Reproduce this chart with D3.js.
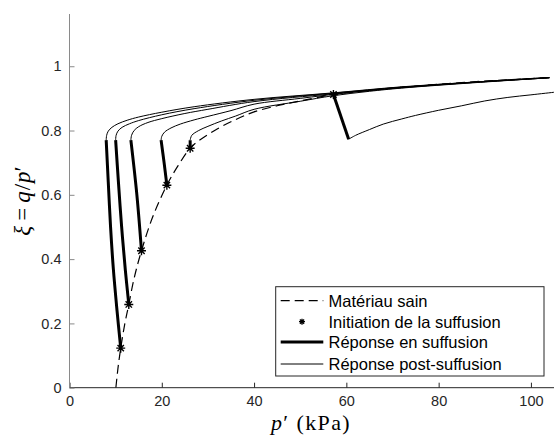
<!DOCTYPE html>
<html><head><meta charset="utf-8">
<script src="https://cdn.jsdelivr.net/npm/d3@7"></script>
<style>body{margin:0;background:#fff}svg{display:block}</style>
</head><body>
<svg id="c" width="554" height="441"></svg>
<script>
const xTicks = [0, 20, 40, 60, 80, 100];
const yTicks = [0, 0.2, 0.4, 0.6, 0.8, 1];
const xDomain = [0, 105];
const yDomain = [0, 1.16];

// Matériau sain (dashed)
const sainP  = [10.05, 10.5, 11.1, 12.0, 12.85, 14.0, 15.6, 18.0, 21.1, 23.5, 26.15, 28.0, 32.0, 36.0, 40.0, 45.0, 50.0, 57.2, 65.0, 74.0, 85.0, 95.0, 104.0];
const sainXi = [0, 0.06, 0.123, 0.2, 0.259, 0.34, 0.426, 0.53, 0.63, 0.69, 0.745, 0.768, 0.805, 0.834, 0.858, 0.877, 0.892, 0.912, 0.925, 0.937, 0.949, 0.958, 0.965];

// Initiation de la suffusion (asterisks)
const initP  = [11.1, 12.85, 15.6, 21.1, 26.15, 57.2];
const initXi = [0.123, 0.259, 0.426, 0.63, 0.745, 0.912];

// Réponse en suffusion (thick)
const suffP = [
  [11.1, 10.3, 9.5, 8.9, 8.4, 7.95],
  [12.85, 12.1, 11.3, 10.6, 10.0],
  [15.6, 14.6, 13.3],
  [21.1, 20.5, 19.85],
  [26.15, 26.15],
  [57.2, 60.5]
];
const suffXi = [
  [0.123, 0.24, 0.37, 0.5, 0.64, 0.77],
  [0.259, 0.366, 0.5, 0.64, 0.77],
  [0.426, 0.6, 0.77],
  [0.63, 0.70, 0.77],
  [0.745, 0.77],
  [0.912, 0.773]
];

// Réponse post-suffusion (thin)
const postP = [
  [7.95, 8.05, 8.4, 9.2, 10.5, 12.5, 15, 20, 27, 40, 57, 72, 88, 104],
  [10.0, 10.1, 10.5, 11.4, 13, 15, 20, 27, 40, 57, 72, 88, 104],
  [13.3, 13.45, 14, 15, 17, 20, 25, 30, 40, 57, 72, 88, 104],
  [19.85, 20.0, 20.6, 22, 24, 27, 30, 35, 40, 50, 60, 72, 88, 104],
  [26.15, 26.5, 28, 30, 33, 36, 40, 50, 57, 65, 72, 88, 104],
  [60.5, 62, 65, 68, 72, 75, 80, 85, 90, 95, 100, 105]
];
const postXi = [
  [0.77, 0.785, 0.798, 0.81, 0.821, 0.832, 0.842, 0.857, 0.874, 0.897, 0.917, 0.936, 0.951, 0.965],
  [0.77, 0.785, 0.798, 0.81, 0.821, 0.831, 0.849, 0.868, 0.894, 0.916, 0.935, 0.951, 0.965],
  [0.77, 0.785, 0.80, 0.812, 0.825, 0.837, 0.853, 0.866, 0.89, 0.914, 0.934, 0.95, 0.964],
  [0.77, 0.782, 0.795, 0.808, 0.82, 0.833, 0.844, 0.862, 0.882, 0.90, 0.917, 0.933, 0.95, 0.964],
  [0.77, 0.785, 0.80, 0.813, 0.83, 0.845, 0.866, 0.891, 0.908, 0.922, 0.932, 0.949, 0.964],
  [0.773, 0.785, 0.803, 0.82, 0.836, 0.847, 0.863, 0.877, 0.892, 0.903, 0.911, 0.919]
];

const legendLabels = ["Matériau sain", "Initiation de la suffusion", "Réponse en suffusion", "Réponse post-suffusion"];

const svg = d3.select("#c");
const x = d3.scaleLinear().domain(xDomain).range([69.5, 554]);
const y = d3.scaleLinear().domain(yDomain).range([387.7, 14.8]);
const ink = "#262626";
const sans = "'Liberation Sans', Arial, Helvetica, sans-serif";
const serif = "'Liberation Serif', 'Times New Roman', serif";

svg.append("clipPath").attr("id", "pa").append("rect")
  .attr("x", 69.5).attr("y", 14).attr("width", 554 - 69.5).attr("height", 388 - 14);

const plot = svg.append("g").attr("clip-path", "url(#pa)");
const line = d3.line().x(d => x(d[0])).y(d => y(d[1])).curve(d3.curveCatmullRom.alpha(0.5));

postP.forEach((ps, i) => {
  plot.append("path").datum(ps.map((p, j) => [p, postXi[i][j]]))
    .attr("d", line).attr("fill", "none").attr("stroke", "#000").attr("stroke-width", 1);
});
plot.append("path").datum(sainP.map((p, j) => [p, sainXi[j]]))
  .attr("d", line).attr("fill", "none").attr("stroke", "#000").attr("stroke-width", 1.2)
  .attr("stroke-dasharray", "9,5");
suffP.forEach((ps, i) => {
  plot.append("path").datum(ps.map((p, j) => [p, suffXi[i][j]]))
    .attr("d", line).attr("fill", "none").attr("stroke", "#000").attr("stroke-width", 3)
    .attr("stroke-linecap", "butt");
});
function star(cx, cy, r) {
  const a = r * 0.7071;
  return `M${cx - r},${cy}H${cx + r}M${cx},${cy - r}V${cy + r}M${cx - a},${cy - a}L${cx + a},${cy + a}M${cx - a},${cy + a}L${cx + a},${cy - a}`;
}
initP.forEach((p, i) => {
  svg.append("path").attr("d", star(x(p), y(initXi[i]), 4.5))
    .attr("stroke", "#000").attr("stroke-width", 1.4).attr("fill", "none");
});

const xAxis = svg.append("g").attr("transform", "translate(0,387.7)")
  .call(d3.axisBottom(x).tickValues(xTicks).tickSize(-5).tickPadding(8).tickFormat(d3.format("d")));
const yAxis = svg.append("g").attr("transform", "translate(69.5,0)")
  .call(d3.axisLeft(y).tickValues(yTicks).tickSize(-5).tickPadding(8).tickFormat(d => d === 0 ? "0" : d === 1 ? "1" : d3.format(".1f")(d)));
xAxis.select(".domain").attr("stroke", ink).attr("d", `M69.5,0H554`);
yAxis.select(".domain").attr("stroke", "#8a8a8a").attr("d", `M0,387.7V14`);
xAxis.selectAll(".tick line").attr("stroke", ink);
yAxis.selectAll(".tick line").attr("stroke", "#8a8a8a");
[xAxis, yAxis].forEach(a => a.selectAll("text").attr("fill", ink)
  .attr("font-family", sans).attr("font-size", 14.5));
xAxis.selectAll("text").attr("dy", "0.71em");

const xt = svg.append("text").attr("x", 311).attr("y", 430).attr("text-anchor", "middle")
  .attr("font-family", serif).attr("font-size", 22).attr("letter-spacing", 1.4).attr("fill", "#000");
xt.append("tspan").attr("font-style", "italic").text("p");
xt.append("tspan").text("′ (kPa)");

const yt = svg.append("text").attr("transform", "translate(30,201) rotate(-90)")
  .attr("text-anchor", "middle").attr("font-family", serif).attr("font-size", 23).attr("fill", "#000");
yt.append("tspan").attr("font-style", "italic").text("ξ");
yt.append("tspan").attr("dx", 5).text("=");
yt.append("tspan").attr("dx", 5).attr("font-style", "italic").text("q");
yt.append("tspan").attr("dx", 1).text("/");
yt.append("tspan").attr("dx", 1).attr("font-style", "italic").text("p");
yt.append("tspan").text("′");

const lg = svg.append("g");
lg.append("rect").attr("x", 275.7).attr("y", 286.7).attr("width", 268.3).attr("height", 89.3)
  .attr("fill", "#fff").attr("stroke", ink).attr("stroke-width", 1);
const rowsY = [300.7, 321.7, 342, 364];
const lx0 = 280.7, lx1 = 323.3;
lg.append("line").attr("x1", lx0).attr("x2", lx1).attr("y1", rowsY[0]).attr("y2", rowsY[0])
  .attr("stroke", "#000").attr("stroke-width", 1.2).attr("stroke-dasharray", "9,5");
lg.append("path").attr("d", star((lx0 + lx1) / 2, rowsY[1], 3)).attr("stroke", "#000").attr("stroke-width", 1.3);
lg.append("line").attr("x1", lx0).attr("x2", lx1).attr("y1", rowsY[2]).attr("y2", rowsY[2])
  .attr("stroke", "#000").attr("stroke-width", 3);
lg.append("line").attr("x1", lx0).attr("x2", lx1).attr("y1", rowsY[3]).attr("y2", rowsY[3])
  .attr("stroke", "#000").attr("stroke-width", 1);
legendLabels.forEach((t, i) => {
  lg.append("text").attr("x", 328.5).attr("y", rowsY[i]).attr("dy", "0.36em")
    .attr("font-family", sans).attr("font-size", 16.5).attr("fill", "#000").text(t);
});
</script>
</body></html>
